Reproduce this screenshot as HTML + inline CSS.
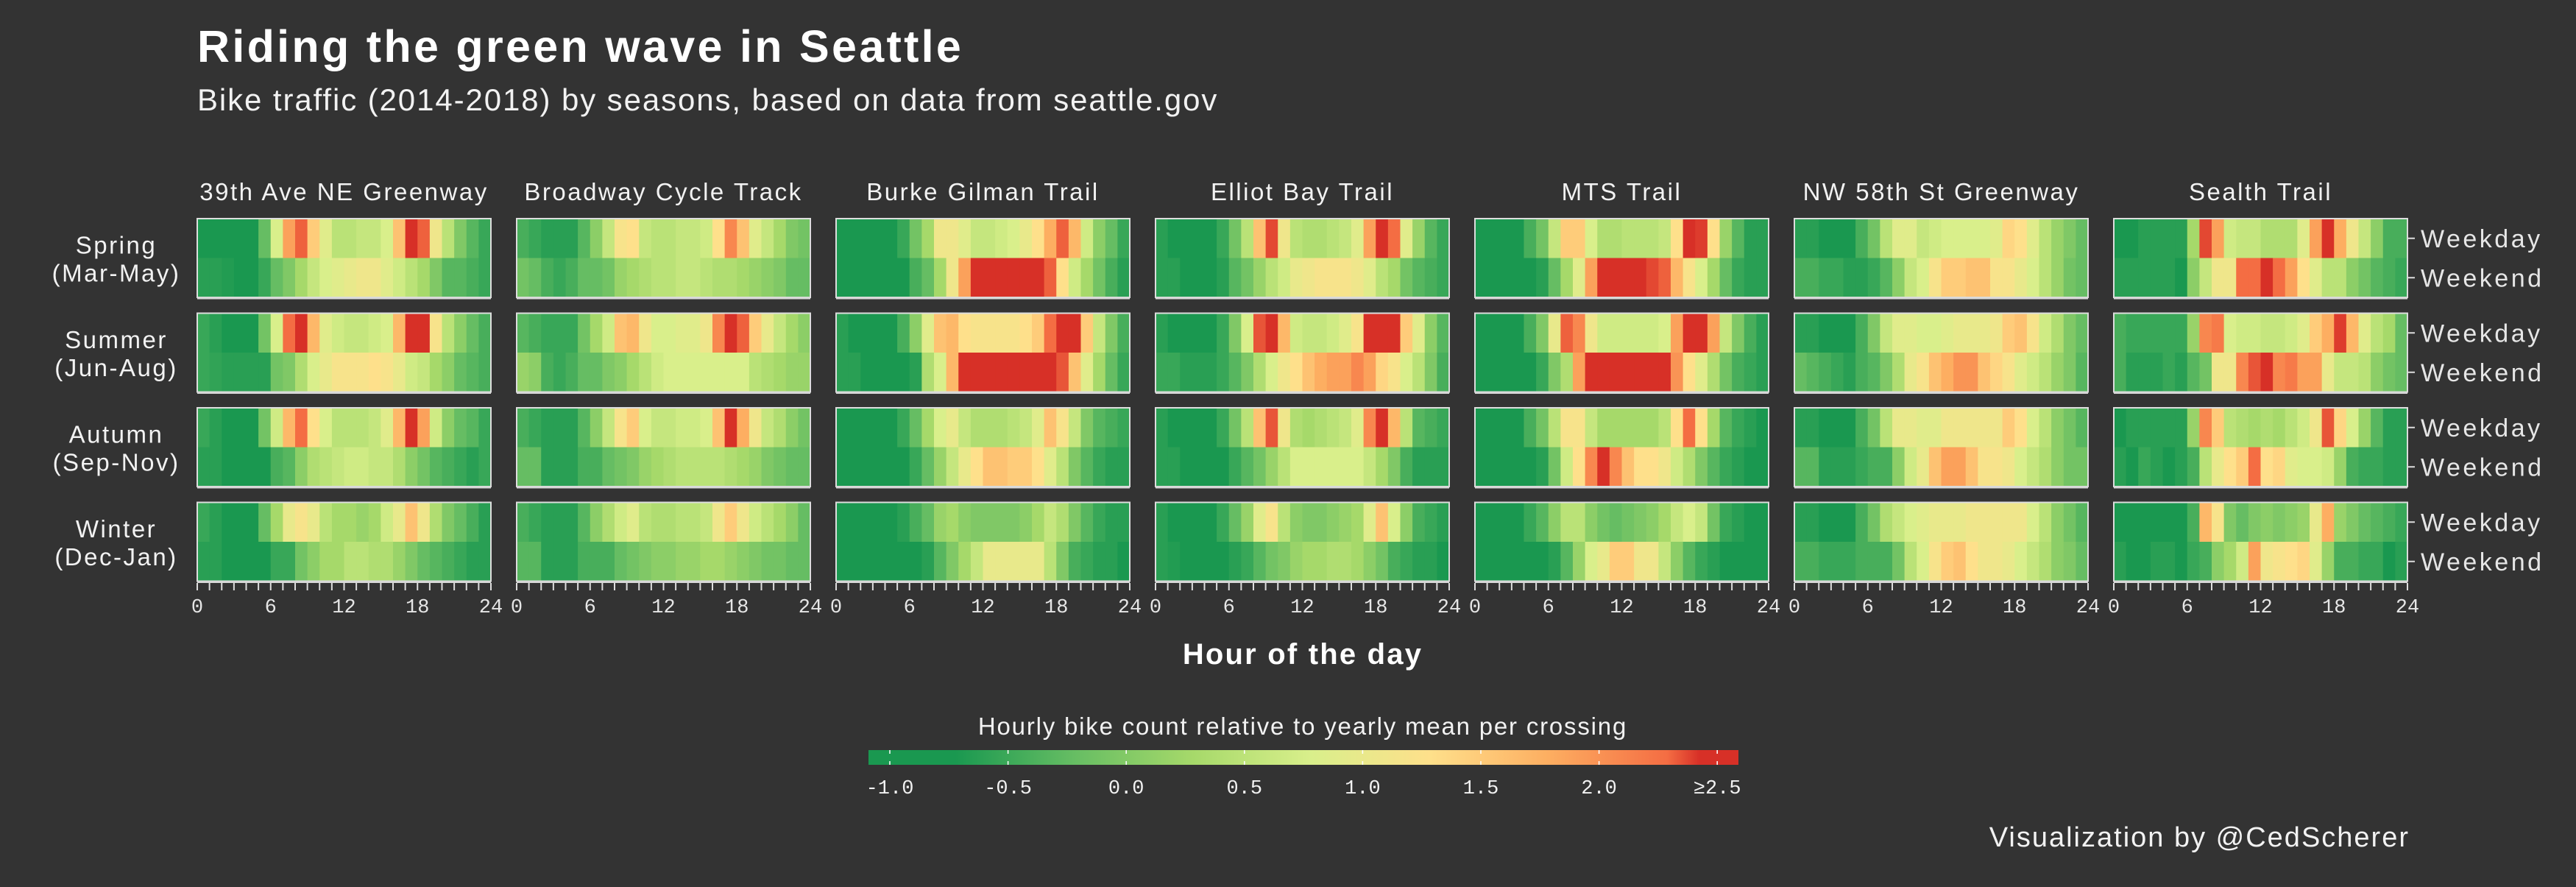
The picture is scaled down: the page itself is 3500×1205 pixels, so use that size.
<!DOCTYPE html>
<html><head><meta charset="utf-8">
<style>
html,body{margin:0;padding:0;background:#333333;}
body{width:3500px;height:1200px;overflow:hidden;font-family:"Liberation Sans",sans-serif;}
</style></head>
<body>
<svg id="chart" width="3500" height="1200" xmlns="http://www.w3.org/2000/svg">
<defs>
<linearGradient id="cbar" x1="0" x2="1" y1="0" y2="0">
<stop offset="0" stop-color="#1a9850"/>
<stop offset="0.1" stop-color="#1a9850"/>
<stop offset="0.236" stop-color="#66bd63"/>
<stop offset="0.373" stop-color="#a6d96a"/>
<stop offset="0.509" stop-color="#d9ef8b"/>
<stop offset="0.645" stop-color="#fee08b"/>
<stop offset="0.782" stop-color="#fdae61"/>
<stop offset="0.918" stop-color="#f46d43"/>
<stop offset="0.955" stop-color="#d73027"/>
<stop offset="1" stop-color="#d73027"/>
</linearGradient>
</defs>
<text x="268" y="84" fill="#ffffff" font-size="61" font-weight="bold" letter-spacing="3.3">Riding the green wave in Seattle</text>
<text x="268" y="150" fill="#f2f2f2" font-size="42" letter-spacing="1.9">Bike traffic (2014-2018) by seasons, based on data from seattle.gov</text>
<g id="panels"></g>
<text x="1770" y="902" fill="#ffffff" font-size="40" font-weight="bold" text-anchor="middle" letter-spacing="2.2">Hour of the day</text>
<text x="1770" y="998" fill="#f2f2f2" font-size="33" text-anchor="middle" letter-spacing="1.8">Hourly bike count relative to yearly mean per crossing</text>
<rect x="1180" y="1019" width="1182" height="20" fill="url(#cbar)"/>
<g id="legend"></g>
<text x="3274" y="1150" fill="#f2f2f2" font-size="38" text-anchor="end" letter-spacing="2">Visualization by @CedScherer</text>
</svg>
<script>
const crossings = ["39th Ave NE Greenway","Broadway Cycle Track","Burke Gilman Trail","Elliot Bay Trail","MTS Trail","NW 58th St Greenway","Sealth Trail"];
const seasons = ["Spring","Summer","Autumn","Winter"];
const seasonMonths = ["(Mar-May)","(Jun-Aug)","(Sep-Nov)","(Dec-Jan)"];
const dayTypes = ["Weekday","Weekend"];
const xTicks = [0,6,12,18,24];
const legendTicks = [-1,-0.5,0,0.5,1,1.5,2,2.5];
const legendLabels = ["-1.0","-0.5","0.0","0.5","1.0","1.5","2.0","≥2.5"];
// values[crossing][season*2+daytype] = 24 hourly values
const values39 = [
[-1,-1,-1,-1,-1,-0.5,0.5,1.6,2.1,1.2,0.6,0.2,0.2,0.3,0.3,0.5,1.3,2.6,2.1,0.8,0.2,-0.3,-0.6,-0.8],
[-0.9,-0.9,-0.95,-1,-1,-0.8,-0.5,-0.3,0,0.3,0.5,0.6,0.7,0.8,0.8,0.6,0.4,0.2,0,-0.3,-0.6,-0.6,-0.7,-0.8],
[-0.8,-0.9,-1,-1,-1,-0.4,0.5,2.0,2.6,1.4,0.6,0.4,0.3,0.3,0.4,0.5,1.4,2.6,2.6,0.9,0.2,-0.2,-0.5,-0.7],
[-0.8,-0.85,-0.9,-0.9,-0.9,-0.9,-0.4,-0.3,0.1,0.5,0.7,0.9,0.9,0.9,1.0,0.9,0.7,0.4,0.3,0,-0.2,-0.5,-0.6,-0.7],
[-0.8,-0.9,-1,-1,-1,-0.4,0.4,1.4,2.0,1.0,0.5,0.2,0.2,0.2,0.3,0.6,1.4,2.6,1.6,0.4,-0.2,-0.5,-0.6,-0.8],
[-0.9,-0.9,-1,-1,-1,-1,-0.7,-0.6,-0.2,0.1,0.2,0.3,0.4,0.4,0.3,0.3,0.1,-0.2,-0.4,-0.6,-0.7,-0.8,-0.9,-0.8],
[-0.8,-0.9,-1,-1,-1,-0.5,0,0.7,0.9,0.7,0.2,0,0,-0.1,0,0.4,0.7,1.3,0.8,0.1,-0.3,-0.5,-0.7,-0.9],
[-0.9,-0.9,-1,-1,-1,-1,-0.8,-0.8,-0.4,-0.2,0,0,0.2,0.2,0.1,0.1,-0.1,-0.3,-0.5,-0.6,-0.7,-0.8,-0.9,-0.9]];
const valuesBroadway = [
[-0.7,-0.8,-0.9,-0.9,-0.9,-0.6,-0.2,0.3,0.9,1.0,0.3,0.2,0.2,0.3,0.3,0.4,1.0,1.8,1.3,0.6,0.3,0,-0.3,-0.4],
[-0.4,-0.5,-0.7,-0.8,-0.7,-0.5,-0.5,-0.4,-0.1,0,0.1,0.2,0.2,0.3,0.3,0.2,0.1,0.1,0,-0.1,-0.2,-0.3,-0.5,-0.5],
[-0.6,-0.7,-0.8,-0.8,-0.8,-0.4,0,0.4,1.3,1.4,0.8,0.5,0.5,0.6,0.6,0.8,1.8,2.6,2.1,1.2,0.7,0.3,0,-0.2],
[-0.1,-0.2,-0.7,-0.8,-0.7,-0.5,-0.5,-0.3,-0.2,0,0.2,0.4,0.5,0.5,0.5,0.5,0.5,0.5,0.5,0.2,0.1,0,-0.1,-0.1],
[-0.7,-0.8,-0.9,-0.9,-0.9,-0.6,-0.2,0.3,0.9,1.2,0.5,0.3,0.3,0.4,0.4,0.5,1.3,2.6,1.5,0.8,0.3,0.1,-0.2,-0.4],
[-0.5,-0.5,-0.9,-0.9,-0.9,-0.7,-0.7,-0.5,-0.4,-0.3,-0.1,0,0.1,0.2,0.2,0.2,0.2,0.1,0,-0.1,-0.3,-0.4,-0.5,-0.5],
[-0.7,-0.8,-0.9,-0.9,-0.9,-0.6,-0.2,0.1,0.4,0.6,0.2,0.1,0.1,0.2,0.2,0.3,0.8,1.2,0.8,0.4,0.2,0,-0.2,-0.5],
[-0.6,-0.6,-0.9,-0.9,-0.9,-0.7,-0.7,-0.7,-0.5,-0.4,-0.3,-0.2,-0.2,-0.1,-0.1,0,0,-0.1,-0.2,-0.3,-0.4,-0.4,-0.5,-0.5]];
const valuesBurke = [
[-1,-1,-1,-1,-1,-0.8,-0.4,0,0.8,0.8,0.6,0.3,0.3,0.4,0.5,0.7,1.0,1.5,2.1,1.4,0.4,-0.2,-0.5,-0.8],
[-1,-1,-1,-1,-1,-1,-0.7,-0.5,0,0.8,1.6,2.6,2.6,2.6,2.6,2.6,2.6,2.1,1.0,0.4,0,-0.4,-0.7,-0.9],
[-0.9,-1,-1,-1,-1,-0.7,-0.2,0.6,1.3,1.4,1.0,0.9,0.9,0.9,0.9,1.0,1.2,2.0,2.6,2.6,1.2,0.3,-0.3,-0.7],
[-0.9,-0.9,-1,-1,-1,-1,-0.9,0.1,0.5,1.4,2.6,2.6,2.6,2.6,2.6,2.6,2.6,2.6,2.2,1.3,0.6,0,-0.5,-0.8],
[-1,-1,-1,-1,-1,-0.8,-0.5,0,0.5,0.7,0.3,0.1,0.1,0.1,0.2,0.3,0.6,1.3,0.9,0.3,-0.3,-0.6,-0.7,-0.8],
[-1,-1,-1,-1,-1,-1,-0.8,-0.5,-0.1,0.3,0.7,1.0,1.3,1.3,1.2,1.2,1.0,0.6,0.2,-0.3,-0.6,-0.8,-0.9,-0.9],
[-1,-1,-1,-1,-1,-0.9,-0.7,-0.5,-0.1,0,-0.2,-0.3,-0.3,-0.3,-0.3,-0.2,0,0.3,0.1,-0.3,-0.6,-0.8,-0.9,-0.9],
[-1,-1,-1,-1,-1,-1,-1,-0.9,-0.6,-0.3,0,0.3,0.7,0.7,0.7,0.7,0.7,0.2,-0.3,-0.7,-0.8,-0.9,-0.9,-1]];
const valuesElliot = [
[-0.9,-1,-1,-1,-1,-0.8,-0.4,0.2,1.3,2.3,0.8,0.2,0.1,0.1,0.2,0.3,0.6,1.6,2.5,2.0,0.6,-0.1,-0.6,-0.8],
[-0.9,-0.9,-1,-1,-1,-0.9,-0.6,-0.4,-0.1,0.2,0.4,0.7,0.8,0.9,0.9,0.9,0.8,0.6,0.2,0,-0.4,-0.6,-0.7,-0.8],
[-0.9,-1,-1,-1,-1,-0.8,-0.3,0.5,2.2,2.6,1.4,0.4,0.3,0.3,0.4,0.6,0.9,2.6,2.6,2.6,1.2,0.6,-0.2,-0.6],
[-0.8,-0.8,-0.9,-0.9,-0.9,-0.8,-0.6,-0.3,0.1,0.5,0.8,1.0,1.3,1.5,1.6,1.6,1.8,1.6,1.1,0.9,0.5,0.2,-0.3,-0.7],
[-0.9,-1,-1,-1,-1,-0.8,-0.4,0.2,1.3,2.2,0.8,0.1,0,0.1,0.2,0.3,0.6,1.8,2.6,1.4,0.2,-0.6,-0.7,-0.8],
[-0.9,-0.9,-1,-1,-1,-1,-0.8,-0.6,-0.4,-0.1,0.2,0.5,0.5,0.5,0.5,0.5,0.5,0.3,0,-0.3,-0.7,-0.9,-0.9,-0.9],
[-0.9,-1,-1,-1,-1,-0.8,-0.5,-0.1,0.6,0.9,0.2,-0.2,-0.3,-0.3,-0.2,-0.1,0,0.6,1.3,0.5,-0.2,-0.7,-0.8,-0.9],
[-0.9,-0.95,-1,-1,-1,-1,-0.9,-0.8,-0.6,-0.4,-0.3,-0.1,0,0,0.1,0.1,0,-0.2,-0.4,-0.7,-0.8,-0.9,-0.9,-1]];
const valuesMTS = [
[-1,-1,-1,-1,-0.7,-0.4,0.3,1.2,1.2,0.5,0.1,0.1,0.2,0.2,0.2,0.3,1.0,2.6,2.4,1.0,-0.1,-0.6,-0.9,-0.9],
[-1,-1,-1,-1,-1,-0.9,-0.5,0,0.6,1.6,2.6,2.6,2.6,2.6,2.3,2.1,1.4,0.9,0.5,0,-0.5,-0.8,-0.9,-0.9],
[-1,-1,-1,-1,-0.7,-0.3,0.7,2.1,1.8,0.8,0.4,0.4,0.4,0.4,0.4,0.5,1.6,2.6,2.6,1.6,0.3,-0.3,-0.7,-0.9],
[-1,-1,-1,-1,-1,-0.8,-0.3,0.1,1.6,2.6,2.6,2.6,2.6,2.6,2.6,2.5,1.7,1.0,0.6,0.1,-0.4,-0.7,-0.8,-0.9],
[-1,-1,-1,-1,-0.7,-0.4,0.2,0.9,0.9,0.3,0,0,0,0,0,0.2,1.0,2.0,1.0,0,-0.6,-0.8,-0.9,-1],
[-1,-1,-1,-1,-1,-0.9,-0.4,0.4,1.0,1.8,2.6,1.8,1.3,1.0,1.0,0.8,0.4,0.1,-0.3,-0.6,-0.8,-0.9,-1,-1],
[-1,-1,-1,-1,-0.8,-0.6,-0.2,0.2,0.2,-0.2,-0.4,-0.5,-0.4,-0.3,-0.2,0,0.3,0.5,0.3,-0.4,-0.8,-0.9,-1,-1],
[-1,-1,-1,-1,-1,-1,-0.9,-0.6,-0.1,0.5,0.7,1.2,1.2,0.8,0.8,0.3,-0.2,-0.6,-0.8,-0.9,-1,-1,-1,-1]];
const valuesNW58 = [
[-0.9,-0.9,-1,-1,-1,-0.7,-0.4,0.2,0.6,0.6,0.3,0.4,0.5,0.5,0.5,0.5,0.6,1.1,1.0,0.6,0.2,-0.1,-0.3,-0.5],
[-0.7,-0.7,-0.8,-0.8,-0.9,-0.9,-0.8,-0.6,-0.2,0.3,0.5,0.9,1.2,1.2,1.3,1.3,0.9,0.9,0.7,0.5,0.2,-0.1,-0.4,-0.5],
[-0.9,-0.9,-1,-1,-1,-0.7,-0.3,0.3,0.6,0.6,0.5,0.5,0.6,0.7,0.7,0.7,0.8,1.2,1.3,0.9,0.4,0.1,-0.3,-0.5],
[-0.5,-0.6,-0.7,-0.8,-0.9,-0.7,-0.6,-0.3,0.1,0.7,0.9,1.3,1.5,1.7,1.7,1.3,1.1,0.9,0.6,0.4,0.2,-0.1,-0.3,-0.6],
[-0.9,-0.9,-1,-1,-1,-0.7,-0.4,0.2,0.7,0.7,0.6,0.6,0.8,0.8,0.8,0.8,0.8,1.2,1.0,0.5,0.2,-0.2,-0.4,-0.6],
[-0.6,-0.6,-0.9,-0.9,-0.9,-0.8,-0.7,-0.7,-0.2,0.4,0.7,1.3,1.6,1.6,1.3,0.9,0.9,0.8,0.5,0.3,0.1,-0.2,-0.4,-0.4],
[-0.9,-0.9,-1,-1,-1,-0.7,-0.4,0.1,0.3,0.5,0.6,0.7,0.7,0.7,0.8,0.8,0.8,0.8,0.8,0.5,0.2,-0.2,-0.4,-0.6],
[-0.7,-0.7,-0.8,-0.8,-0.8,-0.7,-0.7,-0.7,-0.4,0.2,0.5,0.9,1.2,1.3,1.0,0.8,0.8,0.7,0.5,0.3,0.1,-0.2,-0.3,-0.5]];
const valuesSealth = [
[-1,-1,-0.9,-0.9,-0.9,-0.9,0,2.3,1.6,0.4,0.3,0.3,0.1,0.1,0.1,0.6,1.6,2.6,1.5,0.8,0.3,-0.2,-0.7,-0.7],
[-0.9,-0.9,-0.9,-0.9,-0.9,-1,-0.2,0.3,0.8,0.8,2.0,2.0,2.6,2.0,1.6,1.0,0.6,0.2,0.2,-0.2,-0.4,-0.6,-0.7,-0.8],
[-0.7,-0.8,-0.8,-0.8,-0.8,-0.8,-0.1,1.8,1.9,0.5,0.4,0.4,0.3,0.3,0.4,0.6,1.2,1.5,2.4,1.4,0.6,0.2,0,-0.5],
[-0.7,-0.9,-0.9,-0.9,-0.8,-0.9,-0.6,-0.4,0.8,0.8,1.8,2.2,2.6,1.8,1.9,1.6,1.6,0.7,0.3,0.3,0.2,-0.2,-0.4,-0.5],
[-1,-0.9,-0.9,-0.9,-0.9,-0.9,-0.1,1.8,1.2,0.2,0.1,0,0.1,0,0.2,0.4,0.8,2.2,1.1,0.5,-0.1,-0.6,-0.9,-0.9],
[-0.9,-1,-0.8,-0.9,-1,-0.9,-0.7,0.2,0.7,1.0,1.2,2.0,1.0,1.1,0.6,0.5,0.5,0.4,-0.1,-0.7,-0.8,-0.8,-0.9,-0.9],
[-1,-1,-1,-1,-1,-1,-0.7,1.4,0.9,-0.3,-0.5,-0.3,-0.2,-0.3,-0.2,-0.1,0.7,1.5,-0.1,-0.3,-0.5,-0.6,-0.7,-0.8],
[-0.9,-1,-1,-0.9,-0.9,-1,-0.8,-0.7,-0.2,0,0.4,1.6,0.8,0.9,1.0,1.1,0.6,-0.1,-0.7,-0.7,-0.8,-0.8,-1,-0.9]];
const allValues = [values39,valuesBroadway,valuesBurke,valuesElliot,valuesMTS,valuesNW58,valuesSealth];

const NS="http://www.w3.org/2000/svg";
const panelX0=268, panelPitch=434, panelW=399;
const rowY0=297, rowPitch=128.5, rowH=107;
const stops=[[-1,[26,152,80]],[-0.5,[102,189,99]],[0,[166,217,106]],[0.5,[217,239,139]],[1,[254,224,139]],[1.5,[253,174,97]],[2,[244,109,67]],[2.5,[215,48,39]]];
function color(v){
  if(v<=stops[0][0]) return "rgb("+stops[0][1].join(",")+")";
  for(let i=1;i<stops.length;i++){
    if(v<=stops[i][0]){
      const a=stops[i-1],b=stops[i],t=(v-a[0])/(b[0]-a[0]);
      return "rgb("+a[1].map((c,k)=>Math.round(c+(b[1][k]-c)*t)).join(",")+")";
    }
  }
  return "rgb("+stops[stops.length-1][1].join(",")+")";
}
function xScale(p,h){return panelX0+p*panelPitch+h*panelW/24;}
function yScale(s,d){return rowY0+s*rowPitch+d*rowH/2;}
function mk(tag,attrs,parent,text){
  const e=document.createElementNS(NS,tag);
  for(const k in attrs) e.setAttribute(k,attrs[k]);
  if(text!==undefined) e.textContent=text;
  parent.appendChild(e);return e;
}
const g=document.getElementById("panels");
crossings.forEach((name,p)=>{
  const t=mk("text",{x:xScale(p,12),y:272,fill:"#f2f2f2","font-size":33,"text-anchor":"middle","letter-spacing":2.5},g,name);
  
  
  seasons.forEach((s,si)=>{
    dayTypes.forEach((d,di)=>{
      const vals=allValues[p][si*2+di];
      vals.forEach((v,h)=>{
        const r=mk("rect",{x:xScale(p,h),y:yScale(si,di),width:panelW/24+0.6,height:rowH/2+0.4,fill:color(v)},g);
        
        
      });
    });
    const b=mk("rect",{x:xScale(p,0),y:yScale(si,0),width:panelW,height:rowH,fill:"none",stroke:"#dddddd","stroke-width":2},g);
    
    
    mk("line",{x1:xScale(p,0),x2:xScale(p,24),y1:yScale(si,0)+rowH+1,y2:yScale(si,0)+rowH+1,stroke:"#d8d8d8","stroke-width":3},g);
  });
  for(let h=0;h<=24;h++){
    mk("line",{x1:xScale(p,h),x2:xScale(p,h),y1:792,y2:802,stroke:"#dddddd","stroke-width":2},g);
  }
  xTicks.forEach(h=>{
    const tl=mk("text",{x:xScale(p,h),y:832,fill:"#e6e6e6","font-size":27,"text-anchor":"middle","font-family":"Liberation Mono, monospace"},g,String(h));
    
    
  });
});
seasons.forEach((s,si)=>{
  const cy=yScale(si,0)+rowH/2;
  const l=mk("text",{x:158,y:cy-6,fill:"#f2f2f2","font-size":33,"text-anchor":"middle","letter-spacing":2.5},g,s);
  
  
  const l2=mk("text",{x:158,y:cy+32,fill:"#f2f2f2","font-size":33,"text-anchor":"middle","letter-spacing":2.5},g,seasonMonths[si]);
  
  
  dayTypes.forEach((d,di)=>{
    const yy=yScale(si,di)+rowH/4;
    const rx=xScale(6,24);
    mk("line",{x1:rx,x2:rx+10,y1:yy,y2:yy,stroke:"#dddddd","stroke-width":2},g);
    const dl=mk("text",{x:rx+18,y:yy+12,fill:"#e6e6e6","font-size":34,"letter-spacing":3.5},g,d);
    
    
  });
});
const lg=document.getElementById("legend");
function lx(v){return 1209+(v+1)*321.2;}
legendTicks.forEach((v,i)=>{
  mk("line",{x1:lx(v),x2:lx(v),y1:1019,y2:1024,stroke:"#ffffff","stroke-width":1.5},lg);
  mk("line",{x1:lx(v),x2:lx(v),y1:1034,y2:1039,stroke:"#ffffff","stroke-width":1.5},lg);
  const t=mk("text",{x:lx(v),y:1078,fill:"#f2f2f2","font-size":27,"text-anchor":"middle","font-family":"Liberation Mono, monospace"},lg,legendLabels[i]);
  
  
});
</script>
</body></html>
